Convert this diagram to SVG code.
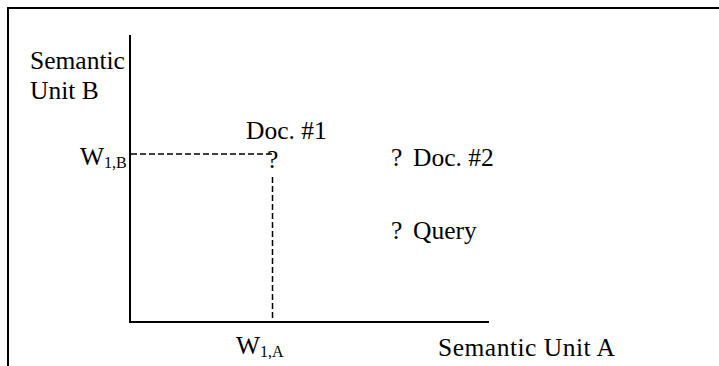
<svg xmlns="http://www.w3.org/2000/svg" width="719" height="366" viewBox="0 0 719 366">
  <style>
    text { font-family: "Liberation Serif", "Times New Roman", serif; fill: #000; }
    .lbl { font-size: 25.5px; }
    .sub { font-size: 16px; }
    .frame { fill: none; stroke: #000; stroke-width: 2; }
    .axis { fill: none; stroke: #000; stroke-width: 2; }
    .guide { fill: none; stroke: #000; stroke-width: 1.5; stroke-dasharray: 6 3; }
  </style>
  <rect width="719" height="366" fill="#fff"/>

  <!-- outer frame (top and left edges) -->
  <path class="frame" d="M8,366 V8 H719"/>

  <!-- axes -->
  <g id="axes">
    <path class="axis" d="M130,35 V322 H489"/>
  </g>

  <!-- projection guides from Doc. #1 to the axes -->
  <g id="connectors">
    <path class="guide" d="M131,154 H272"/>
    <path class="guide" d="M272.5,177 V321"/>
  </g>

  <g id="axis-b-label">
    <text class="lbl" x="30" y="69">Semantic</text>
    <text class="lbl" x="30" y="99">Unit B</text>
  </g>

  <g id="axis-a-label">
    <text class="lbl" x="438" y="356" textLength="177">Semantic Unit A</text>
  </g>

  <g id="w1b">
    <text class="lbl" x="80" y="165">W<tspan class="sub" dy="3">1,B</tspan></text>
  </g>

  <g id="w1a">
    <text class="lbl" x="236" y="354">W<tspan class="sub" dy="3">1,A</tspan></text>
  </g>

  <g id="doc1">
    <text class="lbl" x="246" y="139">Doc. #1</text>
    <text class="lbl" x="267" y="168">?</text>
  </g>

  <g id="doc2">
    <text class="lbl" x="391" y="166">?</text>
    <text class="lbl" x="413" y="166">Doc. #2</text>
  </g>

  <g id="query">
    <text class="lbl" x="391" y="239">?</text>
    <text class="lbl" x="413" y="239">Query</text>
  </g>
</svg>
